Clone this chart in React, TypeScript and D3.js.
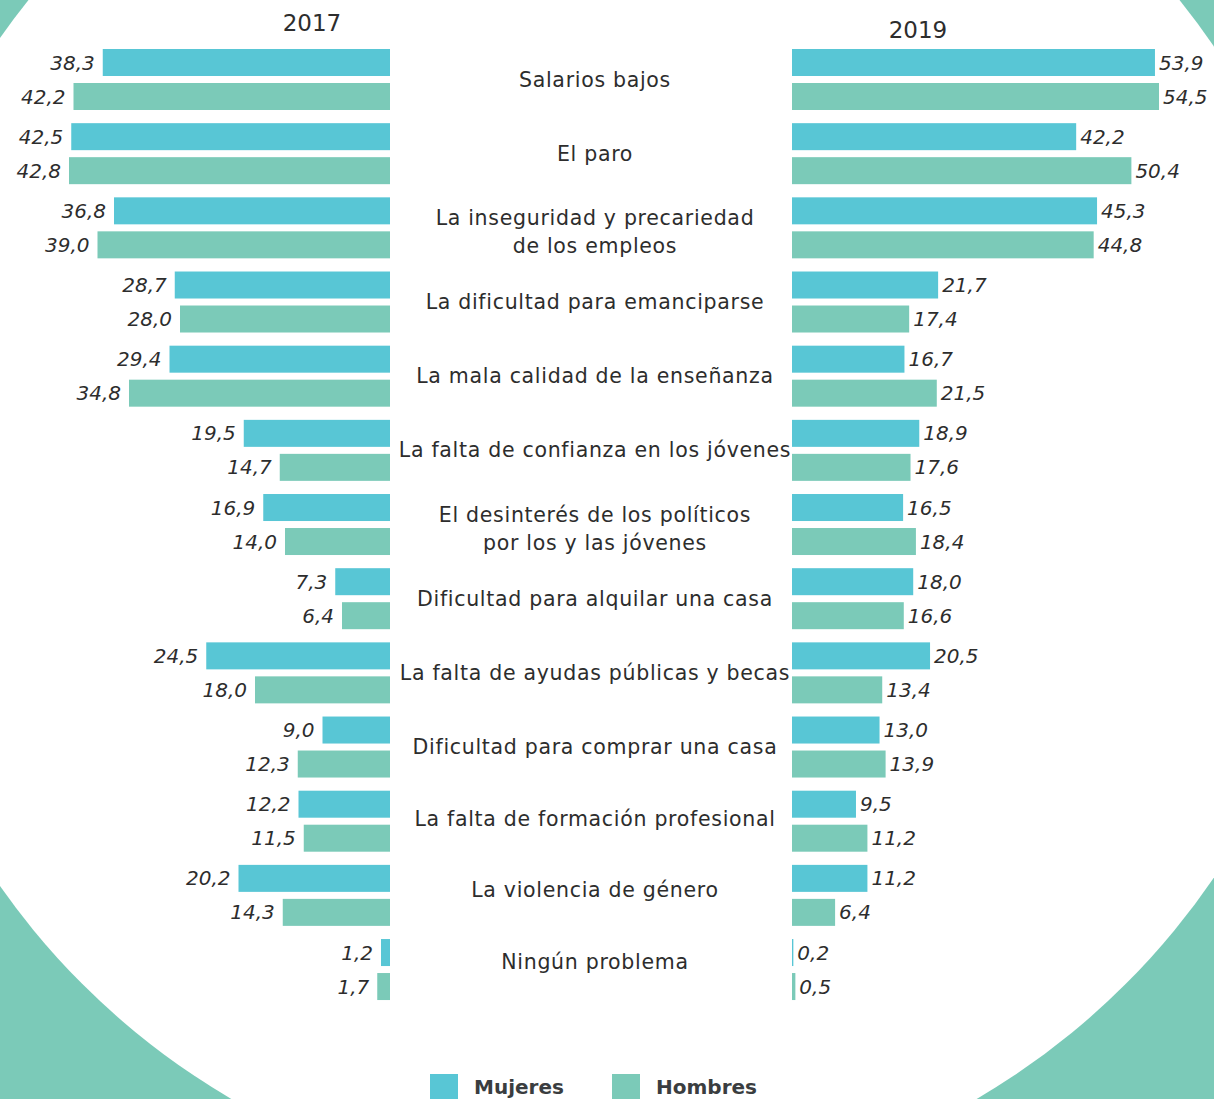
import React, { useEffect, useRef } from 'react';
import * as d3 from 'd3';

const categories = [
  'Salarios bajos',
  'El paro',
  'La inseguridad y precariedad|de los empleos',
  'La dificultad para emanciparse',
  'La mala calidad de la enseñanza',
  'La falta de confianza en los jóvenes',
  'El desinterés de los políticos|por los y las jóvenes',
  'Dificultad para alquilar una casa',
  'La falta de ayudas públicas y becas',
  'Dificultad para comprar una casa',
  'La falta de formación profesional',
  'La violencia de género',
  'Ningún problema',
];

const mujeres2017 = [38.3, 42.5, 36.8, 28.7, 29.4, 19.5, 16.9, 7.3, 24.5, 9.0, 12.2, 20.2, 1.2];
const hombres2017 = [42.2, 42.8, 39.0, 28.0, 34.8, 14.7, 14.0, 6.4, 18.0, 12.3, 11.5, 14.3, 1.7];
const mujeres2019 = [53.9, 42.2, 45.3, 21.7, 16.7, 18.9, 16.5, 18.0, 20.5, 13.0, 9.5, 11.2, 0.2];
const hombres2019 = [54.5, 50.4, 44.8, 17.4, 21.5, 17.6, 18.4, 16.6, 13.4, 13.9, 11.2, 6.4, 0.5];

const years = ['2017', '2019'];
const seriesNames = ['Mujeres', 'Hombres'];

const BLUE = '#58c6d5';
const GREEN = '#7bcab8';
const TEXT = '#2d2d2d';
const FONT = '"DejaVu Sans", sans-serif';

const App = () => {
  const svgRef = useRef<SVGSVGElement>(null);

  useEffect(() => {
    const svg = d3.select(svgRef.current);
    const width = 1214;
    const height = 1099;
    svg.selectAll('*').remove();

    // background: teal corners outside a big white circle
    svg.append('rect').attr('width', width).attr('height', height).attr('fill', GREEN);
    svg.append('circle').attr('cx', 604).attr('cy', 462).attr('r', 738).attr('fill', '#fff');

    const y = d3.scaleBand()
      .domain(categories)
      .range([49, 49 + 74.17 * categories.length]);
    const barH = 27;
    const gap = 7;

    const leftEdge = 390;
    const xLeft = d3.scaleLinear().domain([0, 42.8]).range([0, 321]);
    const rightEdge = 792;
    const xRight = d3.scaleLinear().domain([0, 54.5]).range([0, 367]);

    const fmt = (v: number) => v.toFixed(1).replace('.', ',');

    const sides = [
      { series: [mujeres2017, hombres2017], left: true },
      { series: [mujeres2019, hombres2019], left: false },
    ];

    sides.forEach(side => {
      side.series.forEach((vals, si) => {
        const g = svg.append('g');
        const rows = vals.map((v, i) => ({ v, c: categories[i] }));
        g.selectAll('rect')
          .data(rows)
          .join('rect')
          .attr('x', d => side.left ? leftEdge - xLeft(d.v) : rightEdge)
          .attr('y', d => (y(d.c) as number) + si * (barH + gap))
          .attr('width', d => side.left ? xLeft(d.v) : xRight(d.v))
          .attr('height', barH)
          .attr('fill', si === 0 ? BLUE : GREEN);
        g.selectAll('text')
          .data(rows)
          .join('text')
          .attr('x', d => side.left ? leftEdge - xLeft(d.v) - 8 : rightEdge + xRight(d.v) + 4)
          .attr('y', d => (y(d.c) as number) + si * (barH + gap) + barH / 2 + 7)
          .attr('text-anchor', side.left ? 'end' : 'start')
          .attr('font-family', FONT)
          .attr('font-style', 'italic')
          .attr('font-size', 20)
          .attr('fill', TEXT)
          .text(d => fmt(d.v));
      });
    });

    // category labels
    const labels = svg.append('g')
      .attr('font-family', FONT)
      .attr('font-size', 20.5)
      .attr('letter-spacing', 0.7)
      .attr('fill', TEXT)
      .attr('text-anchor', 'middle');
    categories.forEach((c, i) => {
      const lines = c.split('|');
      const mid = (y(c) as number) + barH + gap / 2 - Math.max(0, i - 9) * 2.5;
      const t = labels.append('text').attr('x', 595);
      lines.forEach((ln, li) => {
        t.append('tspan')
          .attr('x', 595)
          .attr('y', mid + 7 + (li - (lines.length - 1) / 2) * 28 + (lines.length > 1 ? 4 : 0))
          .text(ln);
      });
    });

    // year headers
    svg.append('text')
      .attr('x', 312).attr('y', 31)
      .attr('text-anchor', 'middle')
      .attr('font-family', FONT).attr('font-size', 23).attr('fill', TEXT)
      .text(years[0]);
    svg.append('text')
      .attr('x', 918).attr('y', 38)
      .attr('text-anchor', 'middle')
      .attr('font-family', FONT).attr('font-size', 23).attr('fill', TEXT)
      .text(years[1]);

    // legend
    const legend = svg.append('g');
    const legendX = [430, 612];
    seriesNames.forEach((name, i) => {
      legend.append('rect')
        .attr('x', legendX[i]).attr('y', 1074)
        .attr('width', 28).attr('height', 25)
        .attr('fill', i === 0 ? BLUE : GREEN);
      legend.append('text')
        .attr('x', legendX[i] + 44).attr('y', 1094)
        .attr('font-family', FONT).attr('font-weight', 'bold')
        .attr('font-size', 20).attr('fill', '#3a3d40')
        .text(name);
    });
  }, []);

  return (
    <svg
      ref={svgRef}
      width="1214"
      height="1099"
      style={{ position: 'absolute', left: 0, top: 0 }}
    ></svg>
  );
};

export default App;
